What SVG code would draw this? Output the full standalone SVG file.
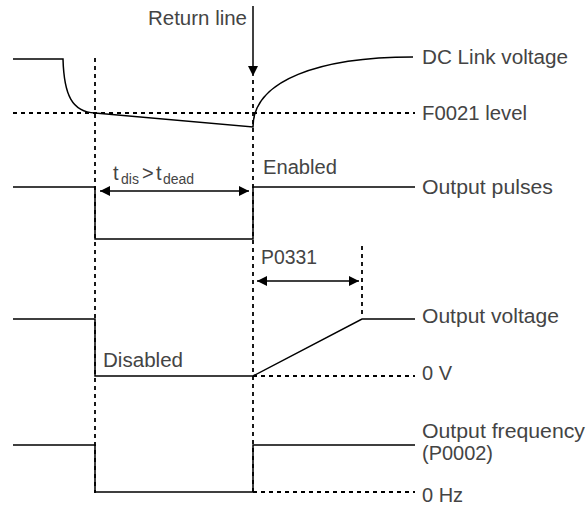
<svg xmlns="http://www.w3.org/2000/svg" width="586" height="506" viewBox="0 0 586 506">
<style>
.s{fill:none;stroke:#000;stroke-width:1.5}
.d{fill:none;stroke:#000;stroke-width:1.8;stroke-dasharray:4 4}
.t{font-family:"Liberation Sans",Arial,sans-serif;font-size:20px;fill:#444}
.sub{font-size:14px}
</style>
<defs>
<marker id="ah" viewBox="0 0 10 10" refX="10" refY="5" markerWidth="11" markerHeight="10" markerUnits="userSpaceOnUse" orient="auto-start-reverse">
<path d="M0,0 L10,5 L0,10 z" fill="#000"/>
</marker>
</defs>
<rect width="586" height="506" fill="#fff"/>
<g id="guides">
<line class="d" x1="95" y1="58" x2="95" y2="493"/>
<line class="d" x1="253" y1="80" x2="253" y2="493"/>
<line class="d" x1="362" y1="246" x2="362" y2="318"/>
<line class="d" x1="13" y1="113" x2="415" y2="113"/>
<line class="d" x1="253" y1="376" x2="415" y2="376"/>
<line class="d" x1="253" y1="492" x2="415" y2="492"/>
</g>
<g id="dc-link">
<path class="s" d="M13,59 H63 C64,95 72,112 95,113 L253,127 C253,80 320,57 413,57"/>
</g>
<g id="output-pulses">
<path class="s" d="M13,187 H95 V239 H253 V187 H415"/>
</g>
<g id="output-voltage">
<path class="s" d="M13,319 H95 V376 H253 L362,319 H415"/>
</g>
<g id="output-frequency">
<path class="s" d="M13,445 H95 V492 H253 V445 H415"/>
</g>
<g id="connectors">
<line class="s" x1="253" y1="6" x2="253" y2="76" marker-end="url(#ah)"/>
<line class="s" x1="100" y1="191" x2="249" y2="191" marker-start="url(#ah)" marker-end="url(#ah)"/>
<line class="s" x1="257" y1="281" x2="359" y2="281" marker-start="url(#ah)" marker-end="url(#ah)"/>
</g>
<g id="labels">
<text class="t" x="148" y="25" textLength="99" lengthAdjust="spacingAndGlyphs">Return line</text>
<text class="t" x="422" y="64" textLength="146" lengthAdjust="spacingAndGlyphs">DC Link voltage</text>
<text class="t" x="422" y="120" textLength="105" lengthAdjust="spacingAndGlyphs">F0021 level</text>
<text class="t" x="113" y="180"><tspan>t</tspan><tspan class="sub" x="121" y="184">dis</tspan><tspan x="142" y="180">&gt;</tspan><tspan x="156" y="180">t</tspan><tspan class="sub" x="163" y="184">dead</tspan></text>
<text class="t" x="263" y="174" textLength="74" lengthAdjust="spacingAndGlyphs">Enabled</text>
<text class="t" x="422" y="194" textLength="131" lengthAdjust="spacingAndGlyphs">Output pulses</text>
<text class="t" x="261" y="264" textLength="56" lengthAdjust="spacingAndGlyphs">P0331</text>
<text class="t" x="422" y="323" textLength="137" lengthAdjust="spacingAndGlyphs">Output voltage</text>
<text class="t" x="103" y="367" textLength="80" lengthAdjust="spacingAndGlyphs">Disabled</text>
<text class="t" x="422" y="380">0 V</text>
<text class="t" x="422" y="438" textLength="163" lengthAdjust="spacingAndGlyphs">Output frequency</text>
<text class="t" x="422" y="460" textLength="71" lengthAdjust="spacingAndGlyphs">(P0002)</text>
<text class="t" x="422" y="502">0 Hz</text>
</g>
</svg>
